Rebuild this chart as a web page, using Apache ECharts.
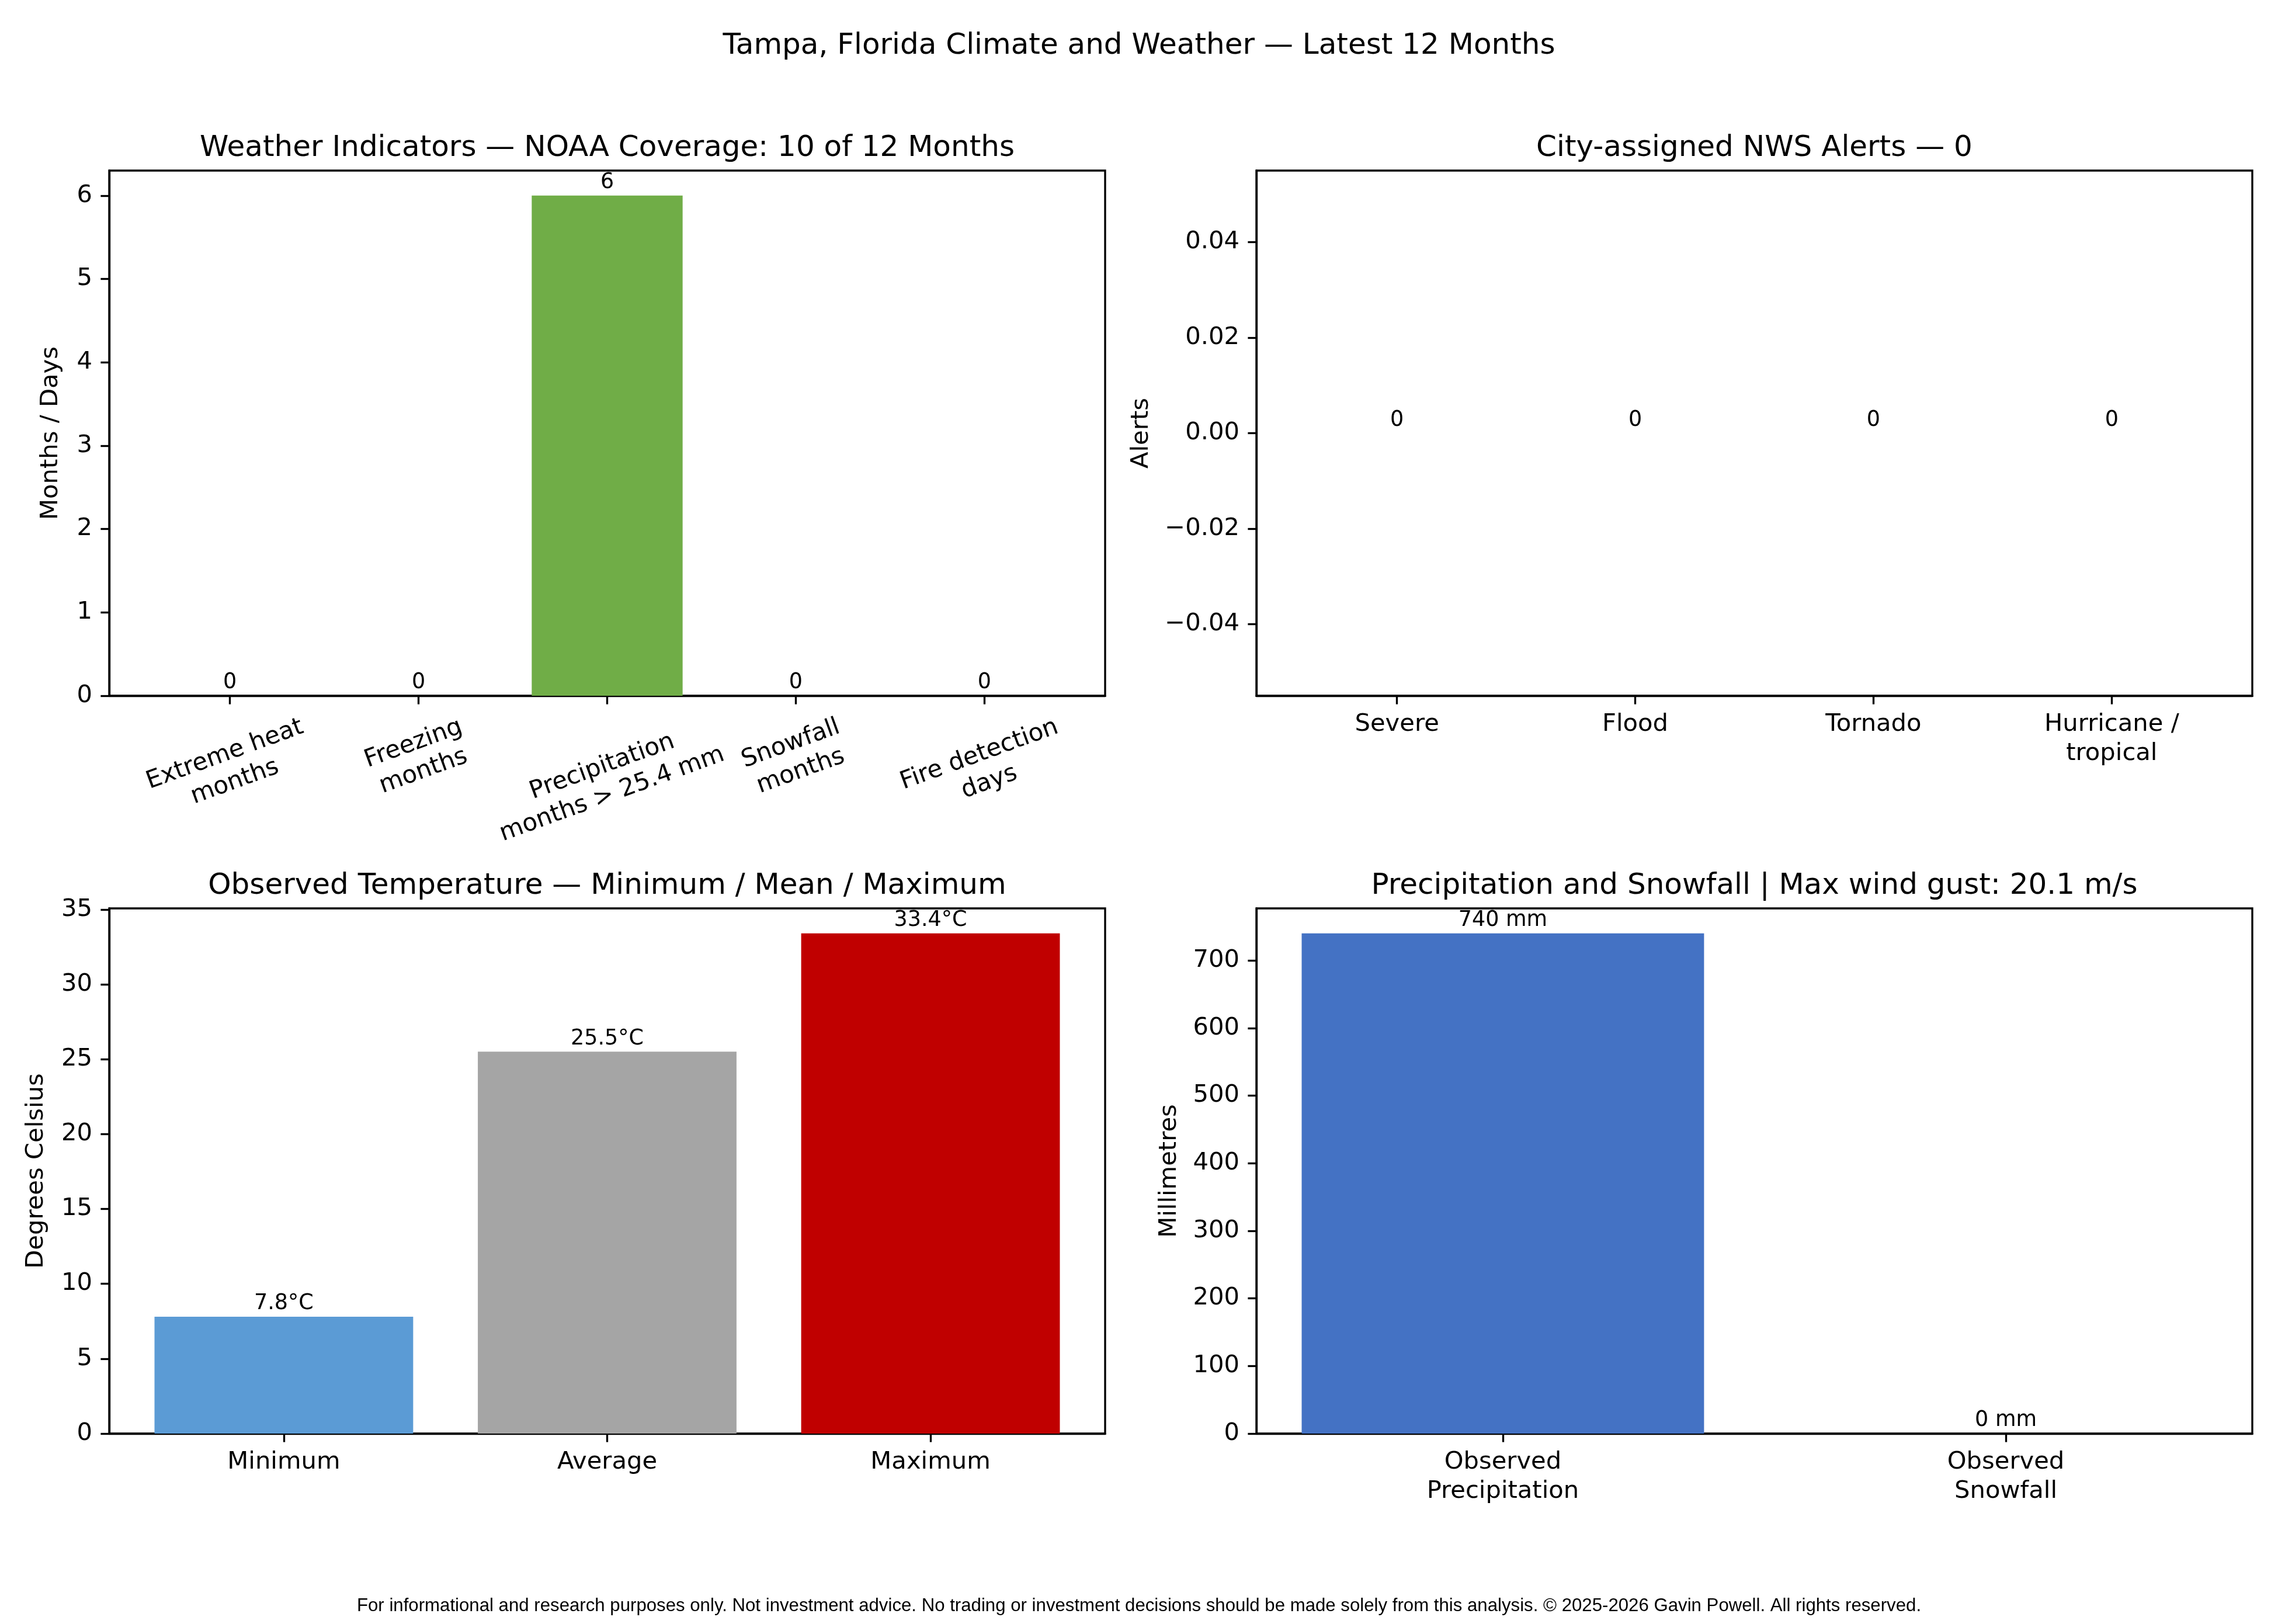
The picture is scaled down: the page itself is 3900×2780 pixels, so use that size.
<!DOCTYPE html>
<html lang="en">
<head>
    <meta charset="UTF-8">
    <title>Tampa, Florida Climate and Weather</title>
    <script src="https://cdn.jsdelivr.net/npm/echarts@6/dist/echarts.min.js"></script>
    <style>
        html, body { margin: 0; padding: 0; background: #fff; }
        #main { width: 3900px; height: 2780px; }
    </style>
</head>
<body>
<div id="main"></div>
<script type="text/javascript">
    // data
    var indicatorCats = ['Extreme heat\nmonths', 'Freezing\nmonths', 'Precipitation\nmonths > 25.4 mm', 'Snowfall\nmonths', 'Fire detection\ndays'];
    var indicatorVals = [0, 0, 6, 0, 0];
    var indicatorTicks = [0, 1, 2, 3, 4, 5, 6];

    var alertCats = ['Severe', 'Flood', 'Tornado', 'Hurricane /\ntropical'];
    var alertVals = [0, 0, 0, 0];
    var alertTicks = [-0.04, -0.02, 0, 0.02, 0.04];
    var alertTickLabels = ['\u22120.04', '\u22120.02', '0.00', '0.02', '0.04'];

    var tempCats = ['Minimum', 'Average', 'Maximum'];
    var tempVals = [7.8, 25.5, 33.4];
    var tempTicks = [0, 5, 10, 15, 20, 25, 30, 35];

    var precipCats = ['Observed\nPrecipitation', 'Observed\nSnowfall'];
    var precipVals = [740, 0];
    var precipTicks = [0, 100, 200, 300, 400, 500, 600, 700];

    var FONT = 'DejaVu Sans';
    var TICK_PX = 41.7, TITLE_PX = 50, BARLAB_PX = 36.5;
    var LW = 3.33;

    // panel boxes (pixels)
    var colL = 187, colR = 2151, gw = 1705, gh = 899;
    var rowT = 292, rowB = 1555;

    // matplotlib-like x limits for n bars of width 0.8
    function xLim(n) {
        var m = 0.05 * (n - 1 + 0.8);
        return [-0.4 - m, n - 1 + 0.4 + m];
    }
    function barPx(n) {
        var l = xLim(n);
        return 0.8 * gw / (l[1] - l[0]);
    }
    function seq(n) {
        var a = [];
        for (var i = 0; i < n; i++) a.push(i);
        return a;
    }

    // rotated labels on the first panel: shift each so its rotated box top sits under the axis
    var ctx = document.createElement('canvas').getContext('2d');
    ctx.font = TICK_PX + 'px "' + FONT + '"';
    var rad = 20 * Math.PI / 180;
    var rotH = indicatorCats.map(function (c) {
        var w = Math.max.apply(null, c.split('\n').map(function (l) { return ctx.measureText(l).width; }));
        return w * Math.sin(rad) + 100 * Math.cos(rad);
    });
    var minH = Math.min.apply(null, rotH);
    var shifts = rotH.map(function (h) { return (h - minH) / 2; });
    var indRich = { t: { fontSize: TICK_PX, lineHeight: 50, fontFamily: FONT, color: '#000' } };
    shifts.forEach(function (d, i) {
        indRich['p' + i] = { fontSize: 1, lineHeight: Math.max(2 * d * Math.cos(rad), 1) };
        indRich['s' + i] = { fontSize: 1, width: Math.max(2 * d * Math.sin(rad), 0) };
    });

    function xAxisOf(idx, cats, extra) {
        var l = xLim(cats.length);
        var ax = {
            type: 'value', gridIndex: idx, min: l[0], max: l[1],
            splitLine: { show: false },
            axisLine: { onZero: false, lineStyle: { color: '#000', width: LW } },
            axisTick: { customValues: seq(cats.length), length: 14.6, lineStyle: { color: '#000', width: LW } },
            axisLabel: {
                customValues: seq(cats.length),
                margin: 24, color: '#000', fontSize: TICK_PX, lineHeight: 50, fontFamily: FONT,
                formatter: function (v) { return cats[Math.round(v)]; }
            }
        };
        if (extra) Object.assign(ax.axisLabel, extra);
        return ax;
    }
    function yAxisOf(idx, min, max, ticks, name, gap, labels) {
        return {
            type: 'value', gridIndex: idx, min: min, max: max,
            name: name, nameLocation: 'middle', nameGap: gap,
            nameTextStyle: { fontSize: TICK_PX, lineHeight: 42, fontFamily: FONT, color: '#000' },
            splitLine: { show: false },
            axisLine: { show: true, onZero: false, lineStyle: { color: '#000', width: LW } },
            axisTick: { show: true, customValues: ticks, length: 14.6, lineStyle: { color: '#000', width: LW } },
            axisLabel: {
                customValues: ticks, margin: 29, color: '#000', fontSize: TICK_PX, fontFamily: FONT,
                formatter: function (v) {
                    if (labels) {
                        for (var i = 0; i < ticks.length; i++) {
                            if (Math.abs(ticks[i] - v) < 1e-9) return labels[i];
                        }
                    }
                    return String(v);
                }
            }
        };
    }
    function barSeries(idx, vals, colors, n, fmt) {
        return {
            type: 'bar', xAxisIndex: idx, yAxisIndex: idx,
            barWidth: barPx(n),
            data: vals.map(function (v, i) {
                return { value: [i, v], itemStyle: { color: colors[i % colors.length] } };
            }),
            label: {
                show: true, position: 'top', distance: 4,
                fontSize: BARLAB_PX, lineHeight: BARLAB_PX, fontFamily: FONT, color: '#000',
                formatter: function (p) { return fmt(p.value[1]); }
            }
        };
    }
    function subTitle(text, x, y) {
        return {
            text: text, left: x, top: y, padding: 0,
            textAlign: 'center', textVerticalAlign: 'middle',
            textStyle: { fontSize: TITLE_PX, fontWeight: 'normal', fontFamily: FONT, color: '#000' }
        };
    }

    var myChart = echarts.init(document.getElementById('main'), null, { renderer: 'canvas' });
    var option = {
        animation: false,
        backgroundColor: '#fff',
        textStyle: { fontFamily: FONT },
        title: [
            subTitle('Tampa, Florida Climate and Weather \u2014 Latest 12 Months', 1950, 79),
            subTitle('Weather Indicators \u2014 NOAA Coverage: 10 of 12 Months', colL + gw / 2, 254),
            subTitle('City-assigned NWS Alerts \u2014 0', colR + gw / 2, 254),
            subTitle('Observed Temperature \u2014 Minimum / Mean / Maximum', colL + gw / 2, 1517),
            subTitle('Precipitation and Snowfall | Max wind gust: 20.1 m/s', colR + gw / 2, 1517),
            {
                text: 'For informational and research purposes only. Not investment advice. No trading or investment decisions should be made solely from this analysis. \u00a9 2025-2026 Gavin Powell. All rights reserved.',
                left: 1950, top: 2749, padding: 0, textAlign: 'center', textVerticalAlign: 'middle',
                textStyle: { fontSize: 31.2, fontWeight: 'normal', fontFamily: 'Liberation Sans', color: '#000' }
            }
        ],
        grid: [
            { left: colL, top: rowT, width: gw, height: gh },
            { left: colR, top: rowT, width: gw, height: gh },
            { left: colL, top: rowB, width: gw, height: gh },
            { left: colR, top: rowB, width: gw, height: gh }
        ].map(function (g) {
            return Object.assign(g, { show: true, borderColor: '#000', borderWidth: LW, backgroundColor: 'transparent' });
        }),
        xAxis: [
            xAxisOf(0, indicatorCats, {
                rotate: 20, align: 'center', verticalAlign: 'middle', margin: 29 + minH / 2,
                rich: indRich,
                formatter: function (v) {
                    var i = Math.round(v);
                    var pre = shifts[i] > 0.5 ? '{p' + i + '| }\n' : '';
                    var post = shifts[i] > 0.5 ? '{s' + i + '| }' : '';
                    return pre + indicatorCats[i].split('\n').map(function (l) { return '{t|' + l + '}' + post; }).join('\n');
                }
            }),
            xAxisOf(1, alertCats),
            xAxisOf(2, tempCats),
            xAxisOf(3, precipCats)
        ],
        yAxis: [
            yAxisOf(0, 0, 6.3, indicatorTicks, 'Months / Days', 79),
            yAxisOf(1, -0.055, 0.055, alertTicks, 'Alerts', 176, alertTickLabels),
            yAxisOf(2, 0, 35.07, tempTicks, 'Degrees Celsius', 104),
            yAxisOf(3, 0, 777, precipTicks, 'Millimetres', 128)
        ],
        series: [
            barSeries(0, indicatorVals, ['#70AD47'], indicatorCats.length, function (v) { return String(v); }),
            barSeries(1, alertVals, ['#C00000'], alertCats.length, function (v) { return String(v); }),
            barSeries(2, tempVals, ['#5B9BD5', '#A5A5A5', '#C00000'], tempCats.length, function (v) { return v.toFixed(1) + '\u00b0C'; }),
            barSeries(3, precipVals, ['#4472C4', '#9DC3E6'], precipCats.length, function (v) { return v + ' mm'; })
        ]
    };
    myChart.setOption(option);
</script>
</body>
</html>
